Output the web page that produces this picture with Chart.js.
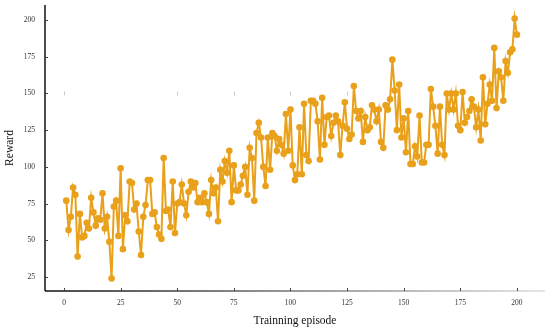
<!DOCTYPE html>
<html>
<head>
<meta charset="utf-8">
<script src="https://cdn.jsdelivr.net/npm/chart.js@4.4.1/dist/chart.umd.min.js"></script>
<style>
    html, body { margin: 0; padding: 0; background: #fff; }
    #wrap { width: 550px; height: 331px; }
</style>
</head>
<body>
<div id="wrap"><canvas id="rewardChart" width="550" height="331"></canvas></div>
<script>
// reward per training episode (episodes 1..200)
const rewards = [
    77, 57, 66, 86, 81, 39, 68, 52, 53, 62,
    58, 79, 69, 60, 65, 64, 82, 58, 66, 49,
    24, 73, 77, 53, 99, 44, 67, 63, 90, 89,
    71, 75, 56, 40, 66, 74, 91, 91, 68, 69,
    59, 54, 51, 106, 70, 71, 59, 90, 55, 75,
    76, 88, 75, 67, 83, 90, 86, 89, 76, 79,
    76, 82, 76, 68, 91, 82, 86, 63, 98, 90,
    104, 96, 111, 76, 101, 84, 84, 88, 94, 100,
    81, 113, 106, 77, 123, 130, 120, 100, 87, 120,
    98, 123, 121, 111, 119, 115, 109, 136, 111, 139,
    101, 91, 95, 127, 95, 143, 108, 104, 145, 145,
    143, 131, 105, 147, 115, 134, 135, 121, 130, 135,
    131, 108, 128, 144, 126, 119, 122, 155, 138, 133,
    138, 117, 134, 125, 127, 142, 139, 131, 139, 117,
    113, 142, 139, 146, 173, 152, 125, 156, 120, 133,
    110, 138, 102, 102, 114, 107, 135, 103, 103, 115,
    115, 153, 141, 128, 109, 141, 115, 108, 150, 139,
    150, 139, 150, 128, 125, 151, 130, 134, 138, 146,
    141, 127, 139, 118, 161, 129, 143, 156, 145, 181,
    140, 165, 161, 145, 172, 164, 178, 180, 201, 190
];
const firstEpisode = 1;

const xTicks = [0, 25, 50, 75, 100, 125, 150, 175, 200];
const yTicks = [25, 50, 75, 100, 125, 150, 175, 200];
// faint stray marks on the 150 line in the original figure
const faintMarks = [0, 50, 75, 100, 125];

const lineColor = '#E9A01A';
const serif = "'Liberation Serif', 'Times New Roman', serif";

const points = rewards.map((r, i) => ({ x: firstEpisode + i, y: r }));

// keep the plot box where the figure has it
function noScalePadding(s) {
    s.paddingTop = 0;
    s.paddingBottom = 0;
    s.paddingLeft = 0;
    s.paddingRight = 0;
}

const axisDecor = {
    id: 'axisDecor',
    beforeDatasetsDraw(chart) {
        const ctx = chart.ctx;
        const xs = chart.scales.x, ys = chart.scales.y;
        ctx.save();
        ctx.strokeStyle = 'rgba(190,190,190,0.8)';
        ctx.lineWidth = 1;
        const yy = ys.getPixelForValue(150);
        faintMarks.forEach(v => {
            const px = Math.round(xs.getPixelForValue(v)) + 0.5;
            ctx.beginPath();
            ctx.moveTo(px, yy - 2);
            ctx.lineTo(px, yy + 2);
            ctx.stroke();
        });
        ctx.restore();
    },
    afterDraw(chart) {
        const ctx = chart.ctx;
        const area = chart.chartArea;
        const xs = chart.scales.x, ys = chart.scales.y;
        ctx.save();

        // left axis
        ctx.strokeStyle = '#111';
        ctx.lineWidth = 1.5;
        ctx.beginPath();
        ctx.moveTo(area.left, area.top);
        ctx.lineTo(area.left, area.bottom);
        ctx.stroke();

        // bottom axis, fading to the right
        const grad = ctx.createLinearGradient(area.left, 0, area.right, 0);
        grad.addColorStop(0, '#111');
        grad.addColorStop(0.12, '#222');
        grad.addColorStop(0.5, '#777');
        grad.addColorStop(1, '#ddd');
        ctx.strokeStyle = grad;
        ctx.beginPath();
        ctx.moveTo(area.left, area.bottom);
        ctx.lineTo(area.right, area.bottom);
        ctx.stroke();

        // inward tick marks
        ctx.strokeStyle = '#444';
        ctx.lineWidth = 1;
        yTicks.forEach(v => {
            const py = Math.round(ys.getPixelForValue(v)) + 0.5;
            ctx.beginPath();
            ctx.moveTo(area.left, py);
            ctx.lineTo(area.left + 3, py);
            ctx.stroke();
        });
        xTicks.forEach(v => {
            const px = Math.round(xs.getPixelForValue(v)) + 0.5;
            ctx.beginPath();
            ctx.moveTo(px, area.bottom);
            ctx.lineTo(px, area.bottom - 3);
            ctx.stroke();
        });
        ctx.restore();
    }
};

const ctx = document.getElementById('rewardChart').getContext('2d');
const rewardChart = new Chart(ctx, {
    type: 'line',
    data: {
        datasets: [{
            label: 'Reward',
            data: points,
            borderColor: lineColor,
            backgroundColor: lineColor,
            borderWidth: 2,
            pointRadius: 3.3,
            pointBorderWidth: 0,
            pointBackgroundColor: lineColor,
            tension: 0,
            fill: false
        }]
    },
    options: {
        responsive: false,
        animation: false,
        layout: { autoPadding: false, padding: { top: 5, right: 5, left: 0, bottom: 0 } },
        plugins: {
            legend: { display: false },
            tooltip: { enabled: false }
        },
        scales: {
            x: {
                type: 'linear',
                min: -8.4,
                max: 212.4,
                afterBuildTicks: s => { s.ticks = xTicks.map(v => ({ value: v })); },
                afterFit: s => { s.height = 40; noScalePadding(s); },
                grid: { display: false, drawTicks: false },
                border: { display: false },
                ticks: {
                    autoSkip: false,
                    maxRotation: 0,
                    padding: 8,
                    color: '#333',
                    font: { family: serif, size: 7.5 }
                },
                title: {
                    display: true,
                    text: 'Trainning episode',
                    color: '#111',
                    padding: { top: 0, bottom: 3 },
                    font: { family: serif, size: 11.5 }
                }
            },
            y: {
                type: 'linear',
                min: 15.5,
                max: 210.2,
                afterBuildTicks: s => { s.ticks = yTicks.map(v => ({ value: v })); },
                afterFit: s => { s.width = 45; noScalePadding(s); },
                grid: { display: false, drawTicks: false },
                border: { display: false },
                ticks: {
                    padding: 10,
                    color: '#333',
                    font: { family: serif, size: 7.5 }
                },
                title: {
                    display: true,
                    text: 'Reward',
                    color: '#111',
                    padding: { top: 3, bottom: 0 },
                    font: { family: serif, size: 11.5 }
                }
            }
        }
    },
    plugins: [axisDecor]
});
</script>
</body>
</html>
